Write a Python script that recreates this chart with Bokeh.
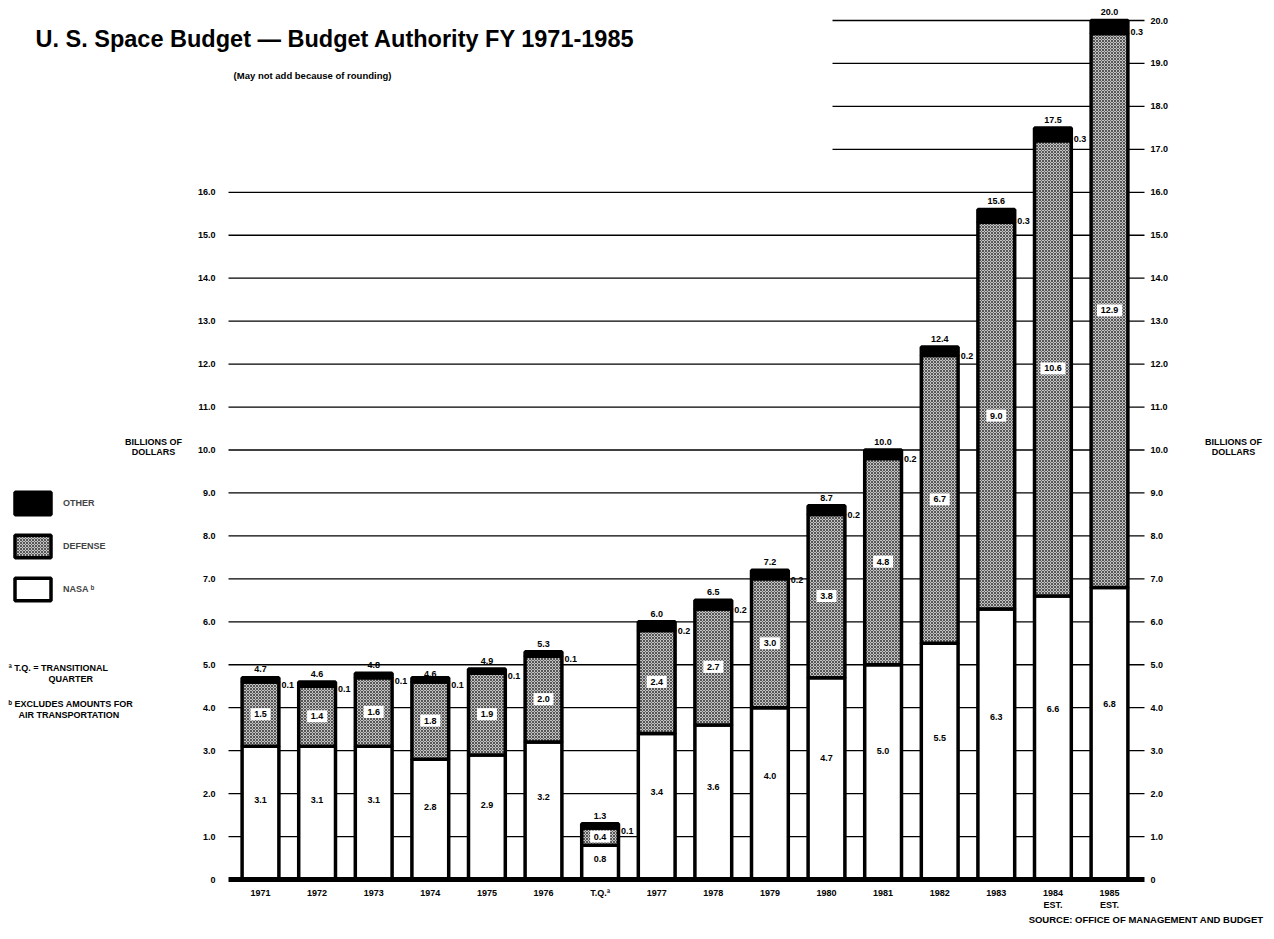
from bokeh.plotting import figure
from bokeh.models import (ColumnDataSource, Range1d, LinearAxis, FixedTicker, LabelSet,
                          Label, Legend, LegendItem)
from bokeh.core.properties import value
from bokeh.embed import file_html
from bokeh.resources import INLINE

# ---------------- data ----------------
categories = ["1971", "1972", "1973", "1974", "1975", "1976", "T.Q.\u00aa", "1977", "1978",
              "1979", "1980", "1981", "1982", "1983", "1984\nEST.", "1985\nEST."]
nasa = [3.1, 3.1, 3.1, 2.8, 2.9, 3.2, 0.8, 3.4, 3.6, 4.0, 4.7, 5.0, 5.5, 6.3, 6.6, 6.8]
defense = [1.5, 1.4, 1.6, 1.8, 1.9, 2.0, 0.4, 2.4, 2.7, 3.0, 3.8, 4.8, 6.7, 9.0, 10.6, 12.9]
other = [0.1, 0.1, 0.1, 0.1, 0.1, 0.1, 0.1, 0.2, 0.2, 0.2, 0.2, 0.2, 0.2, 0.3, 0.3, 0.3]
total = [4.7, 4.6, 4.8, 4.6, 4.9, 5.3, 1.3, 6.0, 6.5, 7.2, 8.7, 10.0, 12.4, 15.6, 17.5, 20.0]
left_ticks = list(range(0, 17))
right_ticks = list(range(0, 21))
upper_grid = [17, 18, 19, 20]

FONT = "Liberation Sans"
FS = "9px"

# ---------------- geometry (canvas = frame) ----------------
W, H = 1272, 937
X0, DX = 260.0, 56.6          # pixel of first bar centre, pixels per category
Y0, DY = 879.0, 42.95         # pixel of value 0, pixels per unit
def xv(X):
    return (X - X0) / DX
def yv(Y):
    return (Y0 - Y) / DY
XL, XR = xv(228), xv(1144)    # plot area edges in data units

xs = list(range(len(categories)))
src = ColumnDataSource(dict(
    x=xs,
    nasa=nasa, defense=defense, other=other, total=total,
    nasa_lbl=[f"{v:.1f}" for v in nasa],
    def_lbl=[f"{v:.1f}" for v in defense],
    oth_lbl=[f"{v:.1f}" for v in other],
    tot_lbl=[f"{v:.1f}" for v in total],
    nasa_y=[v * 0.6 for v in nasa],
    def_y=[n + d / 2 for n, d in zip(nasa, defense)],
    def_w=[len(f"{v:.1f}") * 5 + 5 for v in defense],
    oth_y=[n + d + o / 2 - 0.12 for n, d, o in zip(nasa, defense, other)],
    tot_y=[t + 0.12 for t in total],
    oth_x=[x + 0.37 for x in xs],
))

p = figure(width=W, height=H, output_backend="svg", toolbar_location=None, tools="",
           x_range=Range1d(xv(0), xv(W)), y_range=Range1d(yv(H), yv(0)),
           min_border=0, min_border_left=0, min_border_right=0, min_border_top=0,
           min_border_bottom=0, x_axis_location=None, y_axis_location=None)
p.outline_line_color = None
p.background_fill_color = "white"
p.border_fill_color = "white"
p.grid.visible = False

# gridlines
p.segment(x0=[XL] * (len(left_ticks) - 1), x1=[XR] * (len(left_ticks) - 1),
          y0=left_ticks[1:], y1=left_ticks[1:], line_color="black", line_width=1.3)
p.segment(x0=[xv(832)] * len(upper_grid), x1=[XR] * len(upper_grid), y0=upper_grid,
          y1=upper_grid, line_color="black", line_width=1.3)

# stacked bars
rs = p.vbar_stack(["nasa", "defense", "other"], x="x", width=0.65, source=src,
                  fill_color=["white", "#c4c4c4", "black"], line_color="black", line_width=3.5,
                  hatch_pattern=[" ", "diagonal_cross", " "], hatch_color="#4a4a4a",
                  hatch_scale=3.0, hatch_weight=0.9)
r_nasa, r_def, r_oth = rs

# white boxes behind defense values
p.rect(x="x", y="def_y", width="def_w", height=12, width_units="screen", height_units="screen",
       source=src, fill_color="white", line_color=None)

# baseline
p.segment(x0=[XL], x1=[XR], y0=[0], y1=[0], line_color="black", line_width=5)

# axes (drawn at fixed locations inside the canvas)
def fmt(t):
    return "0" if t == 0 else f"{t:.1f}"

laxis = LinearAxis(ticker=FixedTicker(ticks=left_ticks), fixed_location=XL,
                   major_label_overrides={t: fmt(t) for t in left_ticks},
                   major_label_standoff=13)
raxis = LinearAxis(ticker=FixedTicker(ticks=right_ticks), fixed_location=XR,
                   major_label_overrides={t: fmt(t) for t in right_ticks},
                   major_label_standoff=6)
baxis = LinearAxis(ticker=FixedTicker(ticks=xs), fixed_location=yv(883),
                   major_label_overrides={i: c for i, c in zip(xs, categories)},
                   major_label_standoff=4)
p.add_layout(laxis, "left")
p.add_layout(raxis, "right")
p.add_layout(baxis, "below")
for ax in [laxis, raxis, baxis]:
    ax.axis_line_color = None
    ax.major_tick_line_color = None
    ax.minor_tick_line_color = None
    ax.major_tick_out = 0
    ax.major_tick_in = 0
    ax.minor_tick_out = 0
    ax.minor_tick_in = 0
    ax.major_label_text_font = FONT
    ax.major_label_text_font_style = "bold"
    ax.major_label_text_font_size = FS
    ax.major_label_text_color = "black"

# value labels
common = dict(source=src, text_font=value(FONT), text_font_style="bold", text_font_size=FS,
              text_color="black")
p.add_layout(LabelSet(x="x", y="nasa_y", text="nasa_lbl", text_align="center",
                      text_baseline="middle", **common))
p.add_layout(LabelSet(x="x", y="def_y", text="def_lbl", text_align="center",
                      text_baseline="middle", **common))
p.add_layout(LabelSet(x="oth_x", y="oth_y", text="oth_lbl", text_align="left",
                      text_baseline="middle", **common))
p.add_layout(LabelSet(x="x", y="tot_y", text="tot_lbl", text_align="center",
                      text_baseline="bottom", **common))

# legend
legend = Legend(items=[LegendItem(label="OTHER", renderers=[r_oth]),
                       LegendItem(label="DEFENSE", renderers=[r_def]),
                       LegendItem(label="NASA \u1d47", renderers=[r_nasa])],
                location=(10, H - 603), glyph_width=45, glyph_height=28, spacing=15,
                padding=0, margin=0, border_line_color=None, background_fill_alpha=0,
                label_text_font=FONT, label_text_font_style="bold", label_text_font_size=FS,
                label_standoff=8)
p.add_layout(legend)

# free texts (screen units: x = X, y = H - Y)
def lab(text, X, Y, size=FS, align="left", baseline="middle"):
    p.add_layout(Label(x=X, y=H - Y, x_units="screen", y_units="screen", text=text,
                       text_font=FONT, text_font_style="bold", text_font_size=size,
                       text_align=align, text_baseline=baseline, text_color="black"))

lab("U. S. Space Budget \u2014 Budget Authority FY 1971-1985", 35, 38, size="23.5px")
lab("(May not add because of rounding)", 312, 75, size="9.5px", align="center")
lab("BILLIONS OF", 153, 441, align="center")
lab("DOLLARS", 153, 451, align="center")
lab("BILLIONS OF", 1233, 441, align="center")
lab("DOLLARS", 1233, 451, align="center")
lab("\u00aa T.Q. = TRANSITIONAL", 8, 667)
lab("QUARTER", 48, 678)
lab("\u1d47 EXCLUDES AMOUNTS FOR", 8, 703)
lab("AIR TRANSPORTATION", 18, 714)
lab("SOURCE: OFFICE OF MANAGEMENT AND BUDGET", 1263, 919, size="9.5px", align="right")

open("out.html", "w").write(file_html(p, INLINE))
